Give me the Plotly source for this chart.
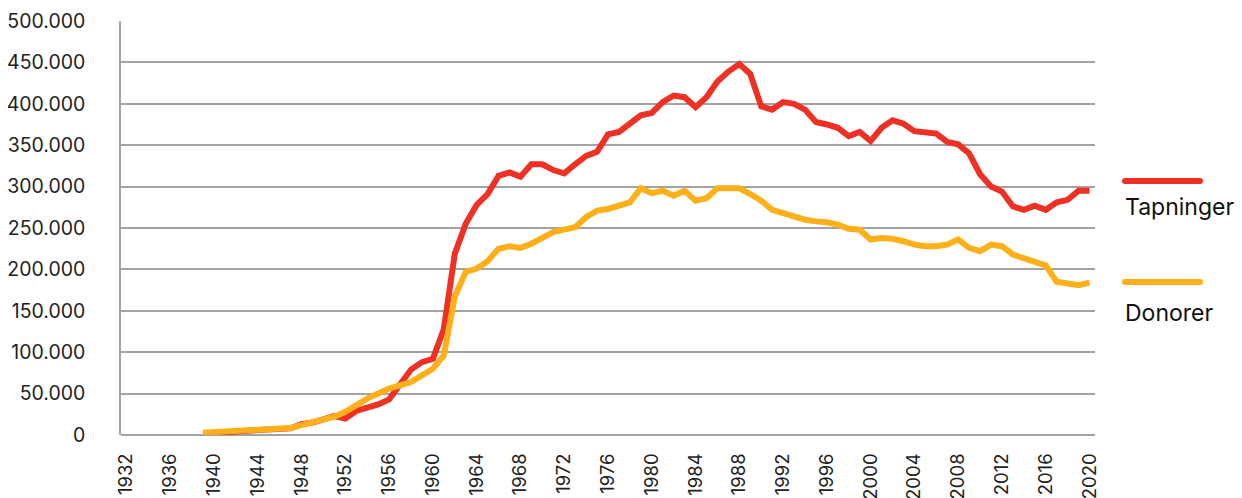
import plotly.graph_objects as go

years = list(range(1939, 2021))

tapninger = [
    1500, 2000, 3000, 4000, 5000, 6000, 6500, 7000, 8000, 13000,   # 1939-1948
    15000, 19000, 23000, 20000, 29000, 33000, 37000, 43000, 60000, 79000,  # 1949-1958
    88000, 92000, 128000, 219000, 255000, 278000, 291000, 313000, 317000, 312000,  # 1959-1968
    327000, 327000, 320000, 316000, 327000, 337000, 342000, 363000, 366000, 376000,  # 1969-1978
    386000, 389000, 402000, 410000, 408000, 396000, 408000, 427000, 439000, 448000,  # 1979-1988
    436000, 397000, 393000, 402000, 400000, 393000, 378000, 375000, 371000, 361000,  # 1989-1998
    366000, 355000, 371000, 380000, 376000, 367000, 365000, 364000, 354000, 351000,  # 1999-2008
    340000, 315000, 300000, 294000, 276000, 272000, 277000, 272000, 281000, 284000,  # 2009-2018
    295000, 295000,  # 2019-2020
]

donorer = [
    2800, 3500, 4000, 5000, 5500, 6500, 7000, 7500, 8500, 12000,   # 1939-1948
    15000, 18000, 22000, 28000, 37000, 44000, 50000, 56000, 60000, 64000,  # 1949-1958
    72000, 80000, 96000, 167000, 197000, 201000, 210000, 225000, 228000, 226000,  # 1959-1968
    231000, 239000, 245000, 248000, 251000, 263000, 271000, 273000, 277000, 281000,  # 1969-1978
    298000, 292000, 295000, 289000, 295000, 283000, 286000, 298000, 298000, 298000,  # 1979-1988
    291000, 283000, 272000, 268000, 263000, 260000, 258000, 257000, 254000, 249000,  # 1989-1998
    248000, 236000, 238000, 237000, 234000, 230000, 228000, 228000, 230000, 236000,  # 1999-2008
    226000, 222000, 230000, 228000, 218000, 213000, 209000, 205000, 185000, 183000,  # 2009-2018
    181000, 184000,  # 2019-2020
]

series_names = ["Tapninger", "Donorer"]
series_colors = ["#EE3124", "#FDB01A"]

x_tick_years = list(range(1932, 2021, 4))
y_tick_values = list(range(0, 500001, 50000))

FONT = "Inter, 'Noto Sans', Arial, sans-serif"
GRID = "#a3a3a3"

fig = go.Figure()
for name, vals, col in zip(series_names, [tapninger, donorer], series_colors):
    fig.add_trace(go.Scatter(
        x=years, y=vals, mode="lines", name=name,
        line=dict(color=col, width=6),
        hoverinfo="skip", showlegend=False,
    ))

# Legend drawn as line segments with the label below each one
legend_line_y = [0.6137, 0.3694]
legend_text_y = [0.5518, 0.294]
x0, x1 = 1.0308, 1.1078
for name, col, ly, ty in zip(series_names, series_colors, legend_line_y, legend_text_y):
    fig.add_shape(type="line", xref="paper", yref="paper", x0=x0, x1=x1, y0=ly, y1=ly,
                  line=dict(color=col, width=6))
    for xe in (x0, x1):
        fig.add_shape(type="circle", xref="paper", yref="paper",
                      x0=xe - 3 / 974, x1=xe + 3 / 974, y0=ly - 3 / 415, y1=ly + 3 / 415,
                      line=dict(width=0), fillcolor=col)
    fig.add_annotation(text=name, xref="paper", yref="paper", x=x0 - 0.002, y=ty,
                       xanchor="left", yanchor="middle", showarrow=False,
                       font=dict(family=FONT, size=23, color="#111111"))

# the page body adds an 8px offset, so the margins are shifted to compensate
fig.update_layout(
    width=1242, height=498,
    margin=dict(l=113, r=155, t=12.5, b=70.5, autoexpand=False),
    paper_bgcolor="white", plot_bgcolor="white",
    separators=",.",
    font=dict(family=FONT, size=19, color="#222222"),
    showlegend=False,
)
fig.update_xaxes(
    range=[1931.5, 2020.5], tickmode="array", tickvals=x_tick_years,
    ticktext=[str(y) for y in x_tick_years], tickangle=-90,
    showgrid=False, zeroline=False, showline=False, automargin=False,
    ticks="outside", ticklen=10, tickcolor="rgba(0,0,0,0)",
    tickfont=dict(family=FONT, size=18.5, color="#222222"),
)
fig.update_yaxes(
    range=[0, 500000], tickmode="array", tickvals=y_tick_values,
    tickformat=",d", showgrid=True, gridcolor=GRID, gridwidth=1.5,
    zeroline=True, zerolinecolor=GRID, zerolinewidth=1.5,
    showline=True, linecolor=GRID, linewidth=1.5, automargin=False,
    ticks="outside", ticklen=30, tickcolor="rgba(0,0,0,0)",
    tickfont=dict(family=FONT, size=19.5, color="#222222"),
)

fig.write_html("out.html")
